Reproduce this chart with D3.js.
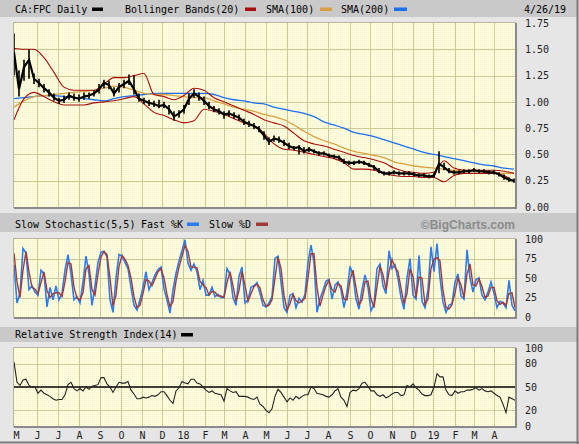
<!DOCTYPE html>
<html>
<head>
<meta charset="utf-8">
<style>
  body { margin: 0; background: #e6e6e6; }
  svg { display: block; }
  text { font-family: "DejaVu Sans Mono", monospace; font-size: 10px; fill: #000; }
  .grid line { stroke: #cdc994; stroke-width: 1; shape-rendering: crispEdges; }
  .axis text { fill: #222; }
  .axis path, .axis line { display: none; }
</style>
</head>
<body>
<script src="https://cdn.jsdelivr.net/npm/d3@7"></script>
<script>

// x axis is the trading-day index, 0 = May 1 2017, 501 = Apr 26 2019
var monthDays   = [2, 23, 44, 65, 86, 107, 128, 148, 169, 191, 210, 231, 252, 273, 293, 314, 336, 356, 378, 399, 419, 441, 460, 480];
var monthLabels = ["M","J","J","A","S","O","N","D","18","F","M","A","M","J","J","A","S","O","N","D","19","F","M","A"];

// price, one bar every 5 trading days
var priceClose = [1.47,1.12,1.33,1.40,1.22,1.18,1.13,1.09,1.04,1.01,
  1.02,1.06,1.04,1.03,1.05,1.06,1.08,1.12,1.18,1.16,
  1.08,1.14,1.17,1.20,1.12,1.03,1.01,0.99,0.98,0.96,
  0.97,0.93,0.86,0.89,0.93,1.03,1.08,1.05,1.01,0.96,
  0.93,0.91,0.88,0.89,0.87,0.85,0.81,0.79,0.77,0.74,
  0.68,0.62,0.65,0.64,0.61,0.58,0.56,0.57,0.53,0.55,
  0.53,0.51,0.51,0.49,0.48,0.47,0.43,0.42,0.42,0.43,
  0.42,0.40,0.38,0.34,0.32,0.32,0.33,0.32,0.32,0.32,
  0.31,0.30,0.30,0.29,0.30,0.41,0.38,0.34,0.33,0.33,
  0.34,0.34,0.35,0.34,0.34,0.33,0.33,0.31,0.28,0.26,
  0.25];
var priceHigh = [1.65,1.30,1.40,1.50,1.27,1.22,1.17,1.12,1.08,1.04,
  1.06,1.09,1.08,1.07,1.09,1.09,1.11,1.17,1.21,1.20,
  1.14,1.18,1.21,1.26,1.25,1.08,1.04,1.02,1.01,1.02,
  1.00,0.97,0.91,0.92,0.97,1.08,1.12,1.09,1.05,1.00,
  0.96,0.94,0.91,0.92,0.90,0.88,0.84,0.82,0.80,0.77,
  0.72,0.66,0.68,0.67,0.64,0.61,0.58,0.59,0.57,0.57,
  0.55,0.53,0.53,0.51,0.50,0.49,0.46,0.44,0.44,0.45,
  0.44,0.42,0.40,0.37,0.34,0.34,0.35,0.34,0.34,0.34,
  0.33,0.32,0.32,0.31,0.32,0.53,0.42,0.37,0.35,0.35,
  0.36,0.36,0.37,0.36,0.36,0.35,0.35,0.33,0.31,0.28,
  0.27];
var priceLow = [1.25,1.05,1.20,1.22,1.17,1.14,1.09,1.05,1.01,0.98,
  0.99,1.02,1.01,1.00,1.02,1.03,1.05,1.08,1.13,1.12,
  1.05,1.09,1.13,1.16,1.07,1.00,0.98,0.96,0.95,0.94,
  0.94,0.88,0.82,0.85,0.89,0.97,1.04,1.01,0.97,0.93,
  0.90,0.88,0.84,0.86,0.84,0.82,0.78,0.76,0.74,0.71,
  0.64,0.59,0.62,0.61,0.58,0.55,0.54,0.50,0.51,0.52,
  0.51,0.49,0.49,0.47,0.46,0.45,0.41,0.40,0.40,0.41,
  0.40,0.38,0.35,0.32,0.30,0.30,0.31,0.30,0.30,0.30,
  0.29,0.28,0.28,0.27,0.28,0.32,0.35,0.32,0.31,0.31,
  0.32,0.32,0.33,0.32,0.32,0.31,0.31,0.29,0.26,0.24,
  0.23];

// overlays, one value every 10 trading days
var bollUpper = [1.51,1.50,1.50,1.42,1.28,1.14,1.11,1.11,1.11,1.17,
  1.23,1.23,1.25,1.27,1.07,1.05,1.02,1.06,1.13,1.11,
  1.04,1.00,0.96,0.92,0.88,0.83,0.80,0.77,0.70,0.63,
  0.60,0.58,0.55,0.52,0.49,0.47,0.45,0.42,0.37,0.34,
  0.33,0.32,0.33,0.44,0.37,0.35,0.35,0.35,0.35,0.34,
  0.32];
var bollLower = [0.83,1.03,1.09,1.05,1.00,0.97,0.97,0.97,0.99,1.00,
  1.01,1.03,1.05,0.98,0.90,0.87,0.83,0.80,0.82,0.93,
  0.91,0.88,0.84,0.80,0.77,0.70,0.60,0.55,0.54,0.52,
  0.50,0.48,0.46,0.42,0.36,0.36,0.35,0.32,0.30,0.29,
  0.29,0.28,0.28,0.24,0.30,0.32,0.32,0.32,0.32,0.30,
  0.24];
var sma100 = [0.95,1.01,1.05,1.06,1.07,1.08,1.09,1.10,1.11,1.13,
  1.15,1.14,1.11,1.08,1.07,1.07,1.06,1.05,1.04,1.04,
  1.01,0.98,0.95,0.93,0.91,0.88,0.86,0.83,0.78,0.72,
  0.67,0.63,0.60,0.56,0.53,0.51,0.49,0.47,0.43,0.41,
  0.39,0.38,0.37,0.36,0.35,0.35,0.34,0.33,0.33,0.32,
  0.32];
var sma200 = [1.03,1.04,1.05,1.06,1.06,1.05,1.04,1.03,1.02,1.01,
  1.03,1.05,1.06,1.07,1.08,1.08,1.08,1.08,1.08,1.08,
  1.07,1.04,1.02,1.01,0.99,0.98,0.95,0.93,0.91,0.89,
  0.86,0.81,0.78,0.75,0.71,0.69,0.67,0.64,0.61,0.58,
  0.55,0.52,0.50,0.48,0.46,0.44,0.42,0.40,0.39,0.37,
  0.36];

// oscillators, one value every 3 trading days
var stochK = [67,18,30,88,82,35,40,32,28,60, 55,13,38,22,40,22,30,60,80,55,
  22,26,18,45,78,55,15,40,70,83, 84,77,22,6,50,80,78,70,62,38,
  15,9,22,38,58,35,44,54,61,64, 36,22,5,35,56,72,85,99,69,60,
  68,58,35,47,28,28,38,26,29,25, 25,62,55,25,15,52,64,18,22,38,
  40,44,30,15,13,18,26,75,78,45, 12,6,28,30,12,24,19,29,70,92,
  70,6,23,34,46,48,23,41,45,35, 12,32,65,54,23,10,35,54,38,8,
  16,62,68,40,30,85,62,67,49,25, 10,50,75,28,23,79,20,12,35,90,
  58,94,50,19,6,15,17,45,55,27, 23,86,50,32,48,50,28,22,32,45,
  30,12,20,18,12,47,15,8];
var stochD = [82,45,25,60,84,58,38,36,30,44, 58,34,25,30,31,31,26,45,70,68,
  38,24,22,31,62,66,35,28,55,77, 84,80,50,14,28,65,79,74,66,50,
  26,12,15,30,48,46,40,49,58,62, 50,29,13,20,46,64,78,92,84,64,
  64,63,46,41,38,28,33,32,27,27, 25,44,58,40,20,34,58,41,20,30,
  39,42,37,22,14,15,22,50,77,62, 28,9,17,29,21,18,21,24,50,81,
  81,38,14,28,40,47,35,32,43,40, 23,22,48,60,38,16,22,45,46,23,
  12,39,65,54,35,58,74,64,58,37, 17,30,62,52,25,51,50,16,23,62,
  74,76,72,34,12,10,16,31,50,41, 25,55,68,41,40,49,39,25,27,38,
  38,21,16,19,15,30,31,12];
var rsi = [82,56,52,59,60,52,50,50,42,46, 42,40,38,35,33,34,34,40,53,56,
  48,45,48,45,50,47,51,52,53,62, 62,54,50,43,50,56,55,55,57,46,
  41,35,35,37,36,37,39,38,40,44, 44,39,33,29,45,49,57,55,54,60,
  60,55,54,50,46,43,45,42,41,40, 32,48,45,43,44,38,38,38,37,35,
  34,37,28,25,20,17,22,38,47,43, 37,31,36,33,38,35,38,40,40,50,
  48,42,41,40,38,37,40,45,48,37, 33,25,43,46,45,48,55,56,51,45,
  45,40,38,40,36,38,41,43,43,39, 40,52,50,54,49,46,41,39,39,40,
  50,67,63,63,46,40,39,45,42,44, 44,46,46,47,49,46,48,45,44,45,
  42,39,37,28,17,37,35,33];

var priceTicks = [0, 0.25, 0.5, 0.75, 1, 1.25, 1.5, 1.75];
var stochTicks = [0, 25, 50, 75, 100];
var rsiTicks   = [0, 20, 50, 80, 100];

var W = 579, H = 444;
var left = 14, right = 515;

var svg = d3.select("body").append("svg")
    .attr("width", W)
    .attr("height", H);

var defs = svg.append("defs");
var pat = defs.append("pattern")
    .attr("id", "paper")
    .attr("width", 2).attr("height", 2)
    .attr("patternUnits", "userSpaceOnUse");
pat.append("rect").attr("width", 2).attr("height", 2).attr("fill", "#ffffe0");
pat.append("rect").attr("width", 1).attr("height", 1).attr("fill", "#f3f1c9");

var x = d3.scaleLinear().domain([0, 501]).range([left, right]);

function series(vals, step) {
    return vals.map(function(v, i) { return [i * step, v]; });
}

// header bars
function header(y0, y1) {
    svg.append("rect")
        .attr("x", 0).attr("y", y0)
        .attr("width", W - 2).attr("height", y1 - y0)
        .attr("fill", "#c9c9c9");
}
header(0, 17);
header(213, 232);
header(327, 342);

// outer frame shadow
svg.append("line").attr("x1", W - 1.5).attr("x2", W - 1.5).attr("y1", 0).attr("y2", H)
    .attr("stroke", "#7a7a7a").attr("stroke-width", 2);
svg.append("line").attr("x1", 0).attr("x2", W).attr("y1", H - 1.5).attr("y2", H - 1.5)
    .attr("stroke", "#7a7a7a").attr("stroke-width", 2);

function panel(name, top, bottom, domain, hgrid, ticks, fmt) {
    var y = d3.scaleLinear().domain(domain).range([bottom, top]);
    var g = svg.append("g").attr("class", name);

    defs.append("clipPath").attr("id", "clip-" + name)
      .append("rect")
        .attr("x", left).attr("y", top)
        .attr("width", right - left).attr("height", bottom - top);

    g.append("rect")
        .attr("x", left).attr("y", top)
        .attr("width", right - left).attr("height", bottom - top)
        .attr("fill", "url(#paper)");

    var grid = g.append("g").attr("class", "grid");
    grid.selectAll(".v").data(monthDays.slice(1)).enter().append("line")
        .attr("x1", function(d) { return Math.round(x(d)) + 0.5; })
        .attr("x2", function(d) { return Math.round(x(d)) + 0.5; })
        .attr("y1", top).attr("y2", bottom);
    grid.selectAll(".h").data(hgrid).enter().append("line")
        .attr("x1", left).attr("x2", right)
        .attr("y1", function(d) { return Math.round(y(d)) + 0.5; })
        .attr("y2", function(d) { return Math.round(y(d)) + 0.5; });

    g.append("g")
        .attr("class", "axis")
        .attr("transform", "translate(" + right + ",0)")
        .call(d3.axisRight(y).tickValues(ticks).tickSize(0).tickPadding(10).tickFormat(fmt))
        .selectAll("text").attr("font-family", "DejaVu Sans Mono").attr("font-size", 10);

    var plot = g.append("g").attr("clip-path", "url(#clip-" + name + ")");
    return {y: y, g: g, plot: plot, top: top, bottom: bottom};
}

function border(p) {
    p.g.append("rect")
        .attr("x", left - 0.5).attr("y", p.top - 0.5)
        .attr("width", right - left + 1).attr("height", p.bottom - p.top + 1)
        .attr("fill", "none").attr("stroke", "#b5b5a0");
    p.g.append("path")
        .attr("d", "M" + (left) + "," + (p.bottom + 1) + "H" + (right + 1) + "V" + p.top)
        .attr("fill", "none").attr("stroke", "#8a8a8a").attr("stroke-width", 2);
}

// ---- price panel
var main = panel("main", 23, 207, [0, 1.75], [0.25, 0.5, 0.75, 1, 1.25, 1.5], priceTicks, d3.format(".2f"));

var smooth = d3.line()
    .x(function(d) { return x(d[0]); })
    .y(function(d) { return main.y(d[1]); })
    .curve(d3.curveMonotoneX);

main.plot.append("path").datum(series(sma200, 10)).attr("d", smooth)
    .attr("fill", "none").attr("stroke", "#1c6ff0").attr("stroke-width", 1.3);
main.plot.append("path").datum(series(sma100, 10)).attr("d", smooth)
    .attr("fill", "none").attr("stroke", "#d9a043").attr("stroke-width", 1.3);
main.plot.append("path").datum(series(bollUpper, 10)).attr("d", smooth)
    .attr("fill", "none").attr("stroke", "#a80c0c").attr("stroke-width", 1.1);
main.plot.append("path").datum(series(bollLower, 10)).attr("d", smooth)
    .attr("fill", "none").attr("stroke", "#a80c0c").attr("stroke-width", 1.1);

var bars = priceClose.map(function(c, i) { return {d: i * 5, c: c, h: priceHigh[i], l: priceLow[i]}; });
main.plot.selectAll(".bar").data(bars).enter().append("line")
    .attr("x1", function(d) { return x(d.d); })
    .attr("x2", function(d) { return x(d.d); })
    .attr("y1", function(d) { return main.y(d.h); })
    .attr("y2", function(d) { return main.y(d.l); })
    .attr("stroke", "#000").attr("stroke-width", 1.6);
main.plot.append("path")
    .datum(bars)
    .attr("d", d3.line().x(function(d) { return x(d.d); }).y(function(d) { return main.y(d.c); }))
    .attr("fill", "none").attr("stroke", "#000").attr("stroke-width", 2.2);
border(main);

// ---- slow stochastic
var stoch = panel("stoch", 239, 317, [0, 100], [25, 50, 75], stochTicks, d3.format("d"));
var stochLine = d3.line()
    .x(function(d) { return x(d[0]); })
    .y(function(d) { return stoch.y(d[1]); });
stoch.plot.append("path").datum(series(stochK, 3)).attr("d", stochLine)
    .attr("fill", "none").attr("stroke", "#2a7cf0").attr("stroke-width", 1.6);
stoch.plot.append("path").datum(series(stochD, 3)).attr("d", stochLine)
    .attr("fill", "none").attr("stroke", "#a23a3a").attr("stroke-width", 1.4);
border(stoch);

// ---- RSI
var rsiP = panel("rsi", 348, 426, [0, 100], [20, 80], rsiTicks, d3.format("d"));
rsiP.plot.append("line")
    .attr("x1", left).attr("x2", right)
    .attr("y1", rsiP.y(50)).attr("y2", rsiP.y(50))
    .attr("stroke", "#000").attr("stroke-width", 1.5);
rsiP.plot.append("path").datum(series(rsi, 3))
    .attr("d", d3.line().x(function(d) { return x(d[0]); }).y(function(d) { return rsiP.y(d[1]); }))
    .attr("fill", "none").attr("stroke", "#222").attr("stroke-width", 1.1);
border(rsiP);

svg.append("g")
    .attr("class", "axis")
    .attr("transform", "translate(0,426)")
    .call(d3.axisBottom(x).tickValues(monthDays).tickSize(0).tickPadding(6)
        .tickFormat(function(d, i) { return monthLabels[i]; }))
    .selectAll("text").attr("font-family", "DejaVu Sans Mono").attr("font-size", 10);

// ---- legends
function label(txt, xx, yy) {
    svg.append("text").attr("x", xx).attr("y", yy).text(txt);
}
function swatch(xx, yy, w, col) {
    svg.append("rect").attr("x", xx).attr("y", yy).attr("width", w).attr("height", 3.5).attr("fill", col);
}
label("CA:FPC Daily", 15, 13);
swatch(92, 7.5, 11, "#000");
label("Bollinger Bands(20)", 125, 13);
swatch(245, 7.5, 11, "#a80c0c");
label("SMA(100)", 266, 13);
swatch(320, 7.5, 12, "#d9a043");
label("SMA(200)", 341, 13);
swatch(394, 7.5, 13, "#1c6ff0");
label("4/26/19", 524, 13);

label("Slow Stochastic(5,5)", 15, 228);
label("Fast %K", 141, 228);
swatch(187, 222.5, 12, "#2a7cf0");
label("Slow %D", 209, 228);
swatch(256, 222.5, 12, "#a23a3a");

svg.append("text")
    .attr("x", 515).attr("y", 229)
    .attr("text-anchor", "end")
    .style("font-family", "Liberation Sans, sans-serif")
    .style("font-weight", "bold")
    .style("font-size", "12px")
    .style("fill", "#8c8c8c")
    .text("\u00a9BigCharts.com");

label("Relative Strength Index(14)", 15, 338);
swatch(181, 333, 12, "#000");

</script>
</body>
</html>
